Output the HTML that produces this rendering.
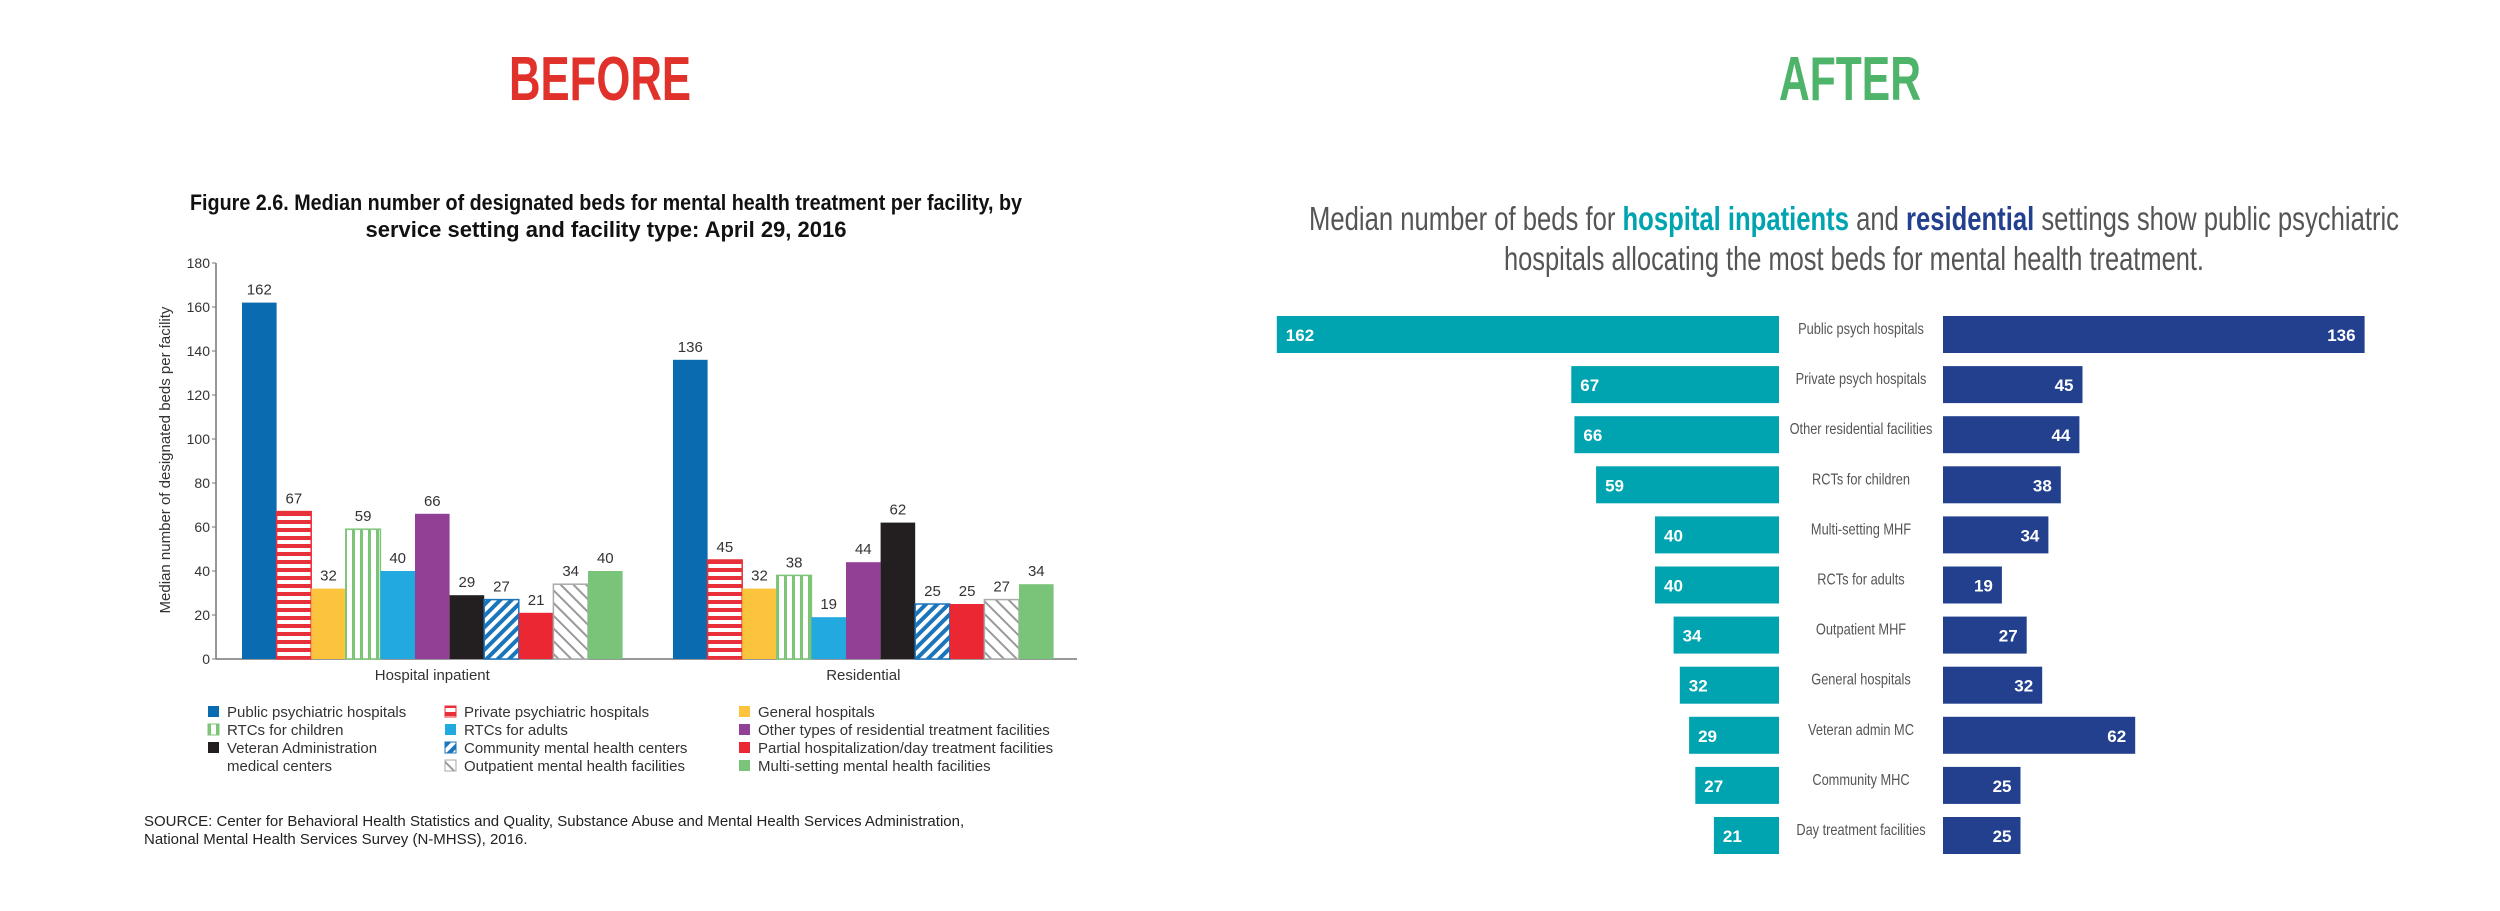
<!DOCTYPE html>
<html><head><meta charset="utf-8"><style>
body{margin:0;background:#fff;width:2500px;height:911px;overflow:hidden}
svg{display:block}
</style></head><body>
<svg id="s" width="2500" height="911" xmlns="http://www.w3.org/2000/svg" font-family="Liberation Sans, sans-serif">
<defs>
<pattern id="pPriv" width="8" height="8" patternUnits="userSpaceOnUse"><rect width="8" height="8" fill="#fff"/><rect width="8" height="4" fill="#e8303a"/></pattern>
<pattern id="pChild" width="8" height="8" patternUnits="userSpaceOnUse"><rect width="8" height="8" fill="#fff"/><rect width="3" height="8" fill="#7cc576"/></pattern>
<pattern id="pComm" width="8" height="8" patternUnits="userSpaceOnUse" patternTransform="rotate(45)"><rect width="8" height="8" fill="#fff"/><rect width="4" height="8" fill="#1b75bb"/></pattern>
<pattern id="pOut" width="9" height="9" patternUnits="userSpaceOnUse" patternTransform="rotate(-45)"><rect width="9" height="9" fill="#fff"/><rect width="2" height="9" fill="#999"/></pattern>
</defs>
<text x="600" y="100" text-anchor="middle" font-size="62" font-weight="bold" fill="#e0312a" textLength="182" lengthAdjust="spacingAndGlyphs">BEFORE</text>
<text x="1850" y="100" text-anchor="middle" font-size="62" font-weight="bold" fill="#4db46a" textLength="142" lengthAdjust="spacingAndGlyphs">AFTER</text>
<g font-weight="bold" font-size="22" fill="#111" text-anchor="middle">
<text x="606" y="210" textLength="832" lengthAdjust="spacingAndGlyphs">Figure 2.6. Median number of designated beds for mental health treatment per facility, by</text>
<text x="606" y="237">service setting and facility type: April 29, 2016</text>
</g>
<g id="left"></g>
<g font-size="15" fill="#222">
<text x="144" y="826">SOURCE: Center for Behavioral Health Statistics and Quality, Substance Abuse and Mental Health Services Administration,</text>
<text x="144" y="844">National Mental Health Services Survey (N-MHSS), 2016.</text>
</g>
<g font-size="33" fill="#555" text-anchor="middle">
<text x="1854" y="230" textLength="1090" lengthAdjust="spacingAndGlyphs">Median number of beds for <tspan font-weight="bold" fill="#00a3b0">hospital inpatients</tspan> and <tspan font-weight="bold" fill="#23408e">residential</tspan> settings show public psychiatric</text>
<text x="1854" y="270" textLength="700" lengthAdjust="spacingAndGlyphs">hospitals allocating the most beds for mental health treatment.</text>
</g>
<g id="right"></g>
</svg>
<script>
// ---- BEFORE chart data ----
const leftGroups = ["Hospital inpatient", "Residential"];
const leftSeries = ["Public psychiatric hospitals","Private psychiatric hospitals","General hospitals","RTCs for children","RTCs for adults","Other types of residential treatment facilities","Veteran Administration medical centers","Community mental health centers","Partial hospitalization/day treatment facilities","Outpatient mental health facilities","Multi-setting mental health facilities"];
const inpatientValues = [162,67,32,59,40,66,29,27,21,34,40];
const residentialValues = [136,45,32,38,19,44,62,25,25,27,34];
const leftTicks = [0,20,40,60,80,100,120,140,160,180];
// ---- AFTER chart data ----
const rightCategories = ["Public psych hospitals","Private psych hospitals","Other residential facilities","RCTs for children","Multi-setting MHF","RCTs for adults","Outpatient MHF","General hospitals","Veteran admin MC","Community MHC","Day treatment facilities"];
const hospitalValues = [162,67,66,59,40,40,34,32,29,27,21];
const residentialRight = [136,45,44,38,34,19,27,32,62,25,25];

const NS="http://www.w3.org/2000/svg";
function mk(parent,tag,attrs,txt){const e=document.createElementNS(NS,tag);for(const k in attrs)e.setAttribute(k,attrs[k]);if(txt!==undefined)e.textContent=txt;parent.appendChild(e);return e;}

const fills=["#0b6bb0","url(#pPriv)","#fbc43c","url(#pChild)","#22a9e0","#924096","#231f20","url(#pComm)","#ec2734","url(#pOut)","#7ac47a"];
const strokes=["none","#e8303a","none","#7cc576","none","none","none","#1b75bb","none","#aaa","none"];
const L=document.getElementById('left');
const y0=659, yTop=263, vMax=180;
const ys=v=>y0-(v/vMax)*(y0-yTop);
const axisX=216, bw=34.6, groupStart=[242,673];
let a=mk(L,'line',{x1:axisX,y1:yTop,x2:axisX,y2:y0,stroke:'#777','stroke-width':1.5});


a=mk(L,'line',{x1:axisX,y1:y0,x2:1077,y2:y0,stroke:'#777','stroke-width':1.5});


leftTicks.forEach(t=>{
  mk(L,'line',{x1:axisX-4,y1:ys(t),x2:axisX,y2:ys(t),stroke:'#777'});
  const tl=mk(L,'text',{x:axisX-6,y:ys(t)+5,'text-anchor':'end','font-size':14,fill:'#333'},t);
  
  
});
const yt=mk(L,'text',{x:170,y:460,'text-anchor':'middle','font-size':15,fill:'#333',transform:'rotate(-90 170 460)'},'Median number of designated beds per facility');


[inpatientValues,residentialValues].forEach((vals,g)=>{
  vals.forEach((v,i)=>{
    const x=groupStart[g]+i*bw;
    const r=mk(L,'rect',{x:x,y:ys(v),width:bw,height:y0-ys(v),fill:fills[i],stroke:strokes[i],'stroke-width':1.5});
    
    
    const t=mk(L,'text',{x:x+bw/2,y:ys(v)-8,'text-anchor':'middle','font-size':15,fill:'#333'},v);
    
    
  });
  const gl=mk(L,'text',{x:groupStart[g]+bw*5.5,y:680,'text-anchor':'middle','font-size':15,fill:'#333'},leftGroups[g]);
  
  
});
const legPos=[[0,0],[1,0],[2,0],[0,1],[1,1],[2,1],[0,2],[1,2],[2,2],[1,3],[2,3]];
const colX=[208,445,739];
leftSeries.forEach((s,i)=>{
  const [c,rw]=legPos[i];
  const yy=712+rw*18;
  const sq=mk(L,'rect',{x:colX[c],y:yy-6,width:11,height:11,fill:fills[i],stroke:strokes[i]});
  
  
  const label=(i===6)?'Veteran Administration':s;
  const t=mk(L,'text',{x:colX[c]+19,y:yy+5,'font-size':15,fill:'#333'},label);
  
  
  if(i===6){const t2=mk(L,'text',{x:colX[c]+19,y:yy+23,'font-size':15,fill:'#333'},'medical centers');
    
    }
});

// ---- AFTER chart ----
const R=document.getElementById('right');
const centerL=1779, centerR=1943, pxU=3.1, rowTop=316, pitch=50.1, bh=37;
rightCategories.forEach((c,i)=>{
  const y=rowTop+i*pitch;
  const lv=hospitalValues[i], rv=residentialRight[i];
  const lw=lv*pxU, rw=rv*pxU;
  const b1=mk(R,'rect',{x:centerL-lw,y:y,width:lw,height:bh,fill:'#00a3b0'});
  
  
  const t1=mk(R,'text',{x:centerL-lw+9,y:y+25,'font-size':17,'font-weight':'bold',fill:'#fff'},lv);
  
  
  const b2=mk(R,'rect',{x:centerR,y:y,width:rw,height:bh,fill:'#23408e'});
  
  
  const t2=mk(R,'text',{x:centerR+rw-9,y:y+25,'text-anchor':'end','font-size':17,'font-weight':'bold',fill:'#fff'},rv);
  
  
  const cx=(centerL+centerR)/2;
  const cl=mk(R,'text',{x:cx,y:y+18,'text-anchor':'middle','font-size':16,fill:'#555',transform:'translate('+cx+' 0) scale(0.8 1) translate('+(-cx)+' 0)'},c);
  
  
});
</script>
</body></html>
